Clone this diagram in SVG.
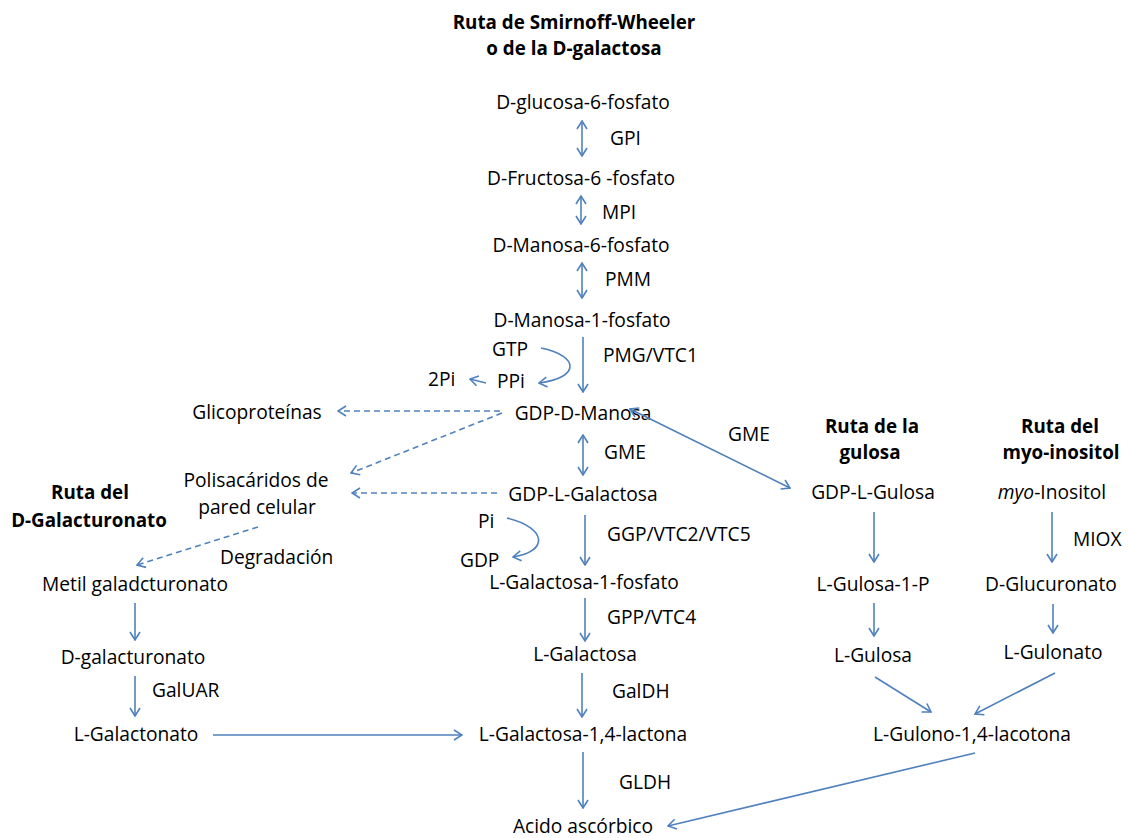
<svg xmlns="http://www.w3.org/2000/svg" width="1128" height="838" viewBox="0 0 1128 838">
<defs>
<marker id="ah" viewBox="0 0 10 12" refX="9" refY="6" markerWidth="10" markerHeight="12" markerUnits="userSpaceOnUse" orient="auto-start-reverse">
<path d="M1,1 L9,6 L1,11" fill="none" stroke="#4f81bd" stroke-width="1.6"/>
</marker>
</defs>
<style>
text{font-family:"Open Sans","Liberation Sans",sans-serif;font-size:19.2px;fill:#000}
.c{text-anchor:middle}
.b{font-weight:bold;font-size:18.8px}
.ln{fill:none;stroke:#4f81bd;stroke-width:1.6}
.d{stroke-dasharray:6,4}
</style>
<rect width="1128" height="838" fill="#fff"/>
<g id="titles">
<text class="c b" x="574" y="29">Ruta de Smirnoff-Wheeler</text>
<text class="c b" x="574" y="55">o de la D-galactosa</text>
<text class="c b" x="90" y="499">Ruta del</text>
<text class="c b" x="89" y="527">D-Galacturonato</text>
<text class="c b" x="872" y="433">Ruta de la</text>
<text class="c b" x="870" y="459">gulosa</text>
<text class="c b" x="1060" y="433">Ruta del</text>
<text class="c b" x="1061" y="459">myo-inositol</text>
</g>
<g id="n-g6p"><text class="c" x="583" y="109">D-glucosa-6-fosfato</text></g>
<g id="n-f6p"><text class="c" x="581" y="185">D-Fructosa-6 -fosfato</text></g>
<g id="n-m6p"><text class="c" x="581" y="252">D-Manosa-6-fosfato</text></g>
<g id="n-m1p"><text class="c" x="582" y="327">D-Manosa-1-fosfato</text></g>
<g id="n-gdpman"><text class="c" x="583" y="420">GDP-D-Manosa</text></g>
<g id="n-glico"><text class="c" x="257" y="419">Glicoproteínas</text></g>
<g id="n-polis"><text class="c" x="256" y="487">Polisacáridos de</text><text class="c" x="257" y="514">pared celular</text></g>
<g id="n-gdpgal"><text class="c" x="583" y="501">GDP-L-Galactosa</text></g>
<g id="n-lgal1p"><text class="c" x="584" y="589">L-Galactosa-1-fosfato</text></g>
<g id="n-lgal"><text class="c" x="585" y="661">L-Galactosa</text></g>
<g id="n-lgallac"><text class="c" x="583" y="741">L-Galactosa-1,4-lactona</text></g>
<g id="n-asc"><text class="c" x="583" y="833">Acido ascórbico</text></g>
<g id="n-metil"><text class="c" x="135" y="591">Metil galadcturonato</text></g>
<g id="n-dgalact"><text class="c" x="133" y="664">D-galacturonato</text></g>
<g id="n-lgalacton"><text class="c" x="136" y="741">L-Galactonato</text></g>
<g id="n-gdpgul"><text class="c" x="873" y="499">GDP-L-Gulosa</text></g>
<g id="n-gul1p"><text class="c" x="873" y="591">L-Gulosa-1-P</text></g>
<g id="n-lgul"><text class="c" x="873" y="662">L-Gulosa</text></g>
<g id="n-gullac"><text class="c" x="972" y="741">L-Gulono-1,4-lacotona</text></g>
<g id="n-myo"><text class="c" x="1052" y="499"><tspan font-style="italic">myo</tspan>-Inositol</text></g>
<g id="n-glucur"><text class="c" x="1051" y="591">D-Glucuronato</text></g>
<g id="n-gulon"><text class="c" x="1053" y="659">L-Gulonato</text></g>
<g id="labels">
<text x="610" y="145">GPI</text>
<text x="602" y="219">MPI</text>
<text x="605" y="286">PMM</text>
<text x="603" y="362">PMG/VTC1</text>
<text x="492" y="356">GTP</text>
<text x="497" y="388">PPi</text>
<text x="428" y="386">2Pi</text>
<text x="604" y="459">GME</text>
<text x="728" y="441">GME</text>
<text x="478" y="528">Pi</text>
<text x="460" y="567">GDP</text>
<text x="607" y="541">GGP/VTC2/VTC5</text>
<text x="220" y="564">Degradación</text>
<text x="607" y="624">GPP/VTC4</text>
<text x="612" y="698">GalDH</text>
<text x="152" y="697">GalUAR</text>
<text x="619" y="789">GLDH</text>
<text x="1073" y="546">MIOX</text>
</g>
<g id="connectors">
<line class="ln" x1="582" y1="121" x2="582" y2="156" marker-start="url(#ah)" marker-end="url(#ah)"/>
<line class="ln" x1="581" y1="196" x2="581" y2="224" marker-start="url(#ah)" marker-end="url(#ah)"/>
<line class="ln" x1="582" y1="263" x2="582" y2="298" marker-start="url(#ah)" marker-end="url(#ah)"/>
<line class="ln" x1="583" y1="337" x2="583" y2="392" marker-end="url(#ah)"/>
<path class="ln" d="M541,348 C580,356 580,378 539,383" marker-end="url(#ah)"/>
<line class="ln" x1="486" y1="383" x2="470" y2="379" marker-end="url(#ah)"/>
<line class="ln d" x1="500" y1="411" x2="338" y2="411" marker-end="url(#ah)"/>
<line class="ln d" x1="502" y1="413" x2="351" y2="473" marker-end="url(#ah)"/>
<line class="ln d" x1="497" y1="493" x2="352" y2="493" marker-end="url(#ah)"/>
<line class="ln d" x1="258" y1="527" x2="137" y2="565" marker-end="url(#ah)"/>
<line class="ln" x1="583" y1="435" x2="583" y2="475" marker-start="url(#ah)" marker-end="url(#ah)"/>
<line class="ln" x1="630" y1="409" x2="790" y2="488" marker-start="url(#ah)" marker-end="url(#ah)"/>
<line class="ln" x1="585" y1="515" x2="585" y2="565" marker-end="url(#ah)"/>
<path class="ln" d="M507,518 C548,528 548,552 513,557" marker-end="url(#ah)"/>
<line class="ln" x1="585" y1="598" x2="585" y2="641" marker-end="url(#ah)"/>
<line class="ln" x1="582" y1="673" x2="582" y2="717" marker-end="url(#ah)"/>
<line class="ln" x1="583" y1="752" x2="583" y2="808" marker-end="url(#ah)"/>
<line class="ln" x1="135" y1="603" x2="135" y2="640" marker-end="url(#ah)"/>
<line class="ln" x1="135" y1="676" x2="135" y2="716" marker-end="url(#ah)"/>
<line class="ln" x1="213" y1="735" x2="462" y2="735" marker-end="url(#ah)"/>
<line class="ln" x1="874" y1="512" x2="874" y2="562" marker-end="url(#ah)"/>
<line class="ln" x1="1052" y1="512" x2="1052" y2="562" marker-end="url(#ah)"/>
<line class="ln" x1="874" y1="603" x2="874" y2="636" marker-end="url(#ah)"/>
<line class="ln" x1="1053" y1="604" x2="1053" y2="633" marker-end="url(#ah)"/>
<line class="ln" x1="875" y1="677" x2="931" y2="712" marker-end="url(#ah)"/>
<line class="ln" x1="1055" y1="673" x2="975" y2="714" marker-end="url(#ah)"/>
<line class="ln" x1="975" y1="753" x2="668" y2="826" marker-end="url(#ah)"/>
</g>
</svg>
